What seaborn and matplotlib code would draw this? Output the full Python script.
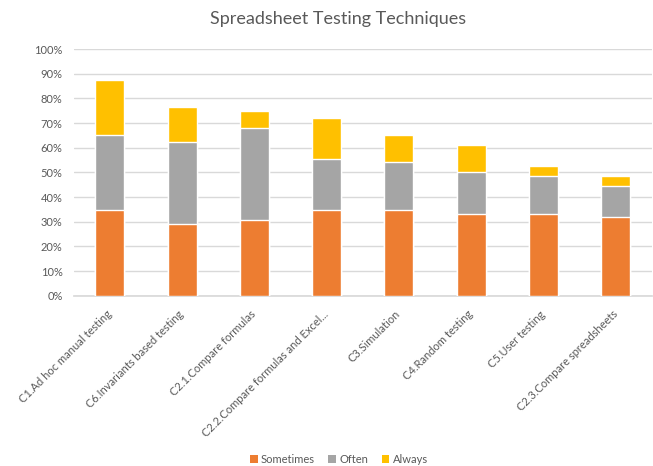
import pandas as pd
import matplotlib.pyplot as plt
import seaborn as sns
from matplotlib.patches import Patch
from matplotlib.ticker import PercentFormatter

# Data (percent of respondents)
techniques = [
    "C1.Ad hoc manual testing",
    "C6.Invariants based testing",
    "C2.1.Compare formulas",
    "C2.2.Compare formulas and Excel...",
    "C3.Simulation",
    "C4.Random testing",
    "C5.User testing",
    "C2.3.Compare spreadsheets",
]
sometimes = [34.7, 29.2, 30.6, 34.7, 34.7, 33.3, 33.3, 31.9]
often = [30.6, 33.3, 37.5, 20.8, 19.4, 16.7, 15.3, 12.5]
always = [22.2, 13.9, 6.9, 16.7, 11.1, 11.1, 4.2, 4.2]

series_names = ["Sometimes", "Often", "Always"]
colors = ["#ED7D31", "#A5A5A5", "#FFC000"]


def main():
    df = pd.DataFrame({
        "technique": techniques,
        "Sometimes": sometimes,
        "Often": often,
        "Always": always,
    })
    # cumulative heights for overlaid stacked bars
    df["cum_often"] = df["Sometimes"] + df["Often"]
    df["cum_always"] = df["cum_often"] + df["Always"]

    sns.set_theme(style="white")
    plt.rcParams["font.family"] = ["Lato", "DejaVu Sans"]

    fig = plt.figure(figsize=(6.53, 4.66), dpi=100)
    ax = fig.add_axes([0.113, 0.3655, 0.885, 0.529])

    for col, color in zip(["cum_always", "cum_often", "Sometimes"], colors[::-1]):
        sns.barplot(data=df, x="technique", y=col, color=color, width=0.4,
                    saturation=1, ax=ax, zorder=3)

    ax.set_ylim(0, 100)
    ax.set_yticks(range(0, 101, 10))
    ax.yaxis.set_major_formatter(PercentFormatter(decimals=0))
    ax.set_xlim(-0.5, len(techniques) - 0.5)
    ax.set_xlabel("")
    ax.set_ylabel("")

    ax.grid(axis="y", color="#D9D9D9", linewidth=1, zorder=0)
    ax.set_axisbelow(True)
    for side in ["top", "right", "left"]:
        ax.spines[side].set_visible(False)
    ax.spines["bottom"].set_color("#D9D9D9")
    ax.tick_params(axis="both", length=0, colors="#595959", labelsize=8)
    ax.tick_params(axis="y", pad=8)

    plt.setp(ax.get_xticklabels(), rotation=45, ha="right", va="center",
             rotation_mode="anchor")
    ax.tick_params(axis="x", pad=12)

    fig.suptitle("Spreadsheet Testing Techniques", x=0.517, y=0.977,
                 fontsize=13, color="#595959")

    handles = [Patch(facecolor=c, edgecolor="none") for c in colors]
    fig.legend(handles, series_names, loc="center", ncol=3,
               bbox_to_anchor=(0.519, 0.015), frameon=False, fontsize=8,
               handlelength=0.7, handleheight=0.7, handletextpad=0.3,
               columnspacing=1.2, labelcolor="#595959")

    fig.savefig("out.png", dpi=100)
    plt.close(fig)


if __name__ == "__main__":
    main()
